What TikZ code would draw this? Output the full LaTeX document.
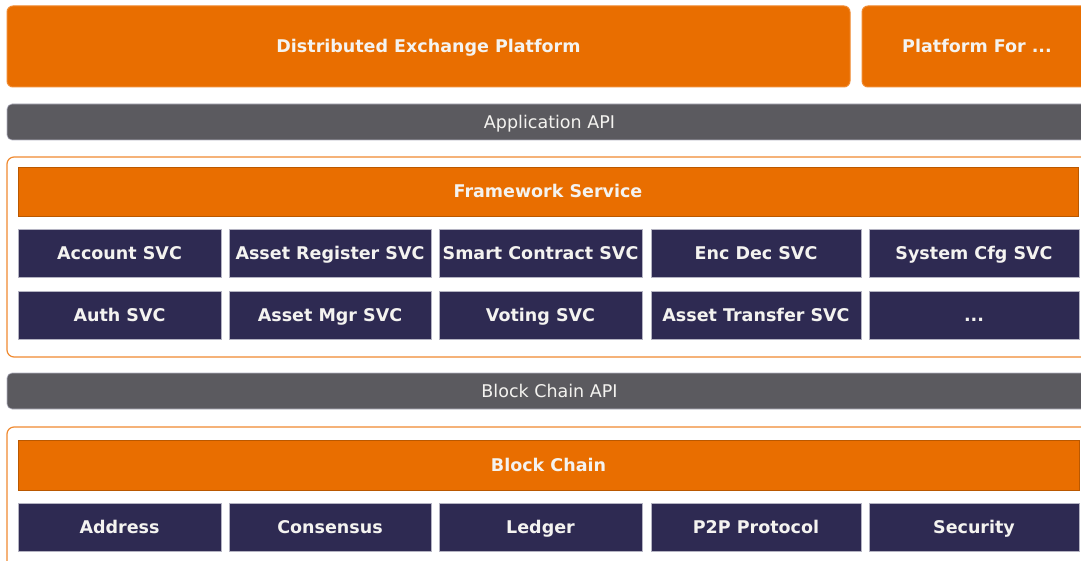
\documentclass[tikz,border=0pt]{standalone}
\usepackage{fontspec}
\setmainfont{DejaVu Sans}
\usetikzlibrary{calc}
\definecolor{MyOrange}{HTML}{E96E00}
\definecolor{MyNavy}{HTML}{2E2A52}
\definecolor{MyGray}{HTML}{5B5A5F}
\definecolor{FrameOrange}{HTML}{F08A30}
\definecolor{EdgeGray}{HTML}{B4B3C2}
\definecolor{LabelWhite}{HTML}{F4F3F0}
\tikzset{
	labeltext/.style={text=LabelWhite, inner sep=0pt, text height=14pt, text depth=1.2pt},
	topbox/.style={labeltext, fill=MyOrange, draw=FrameOrange, line width=1pt, rounded corners=6pt,
		font=\fontsize{17.5}{20}\selectfont\bfseries},
	apibar/.style={labeltext, fill=MyGray, draw=EdgeGray, line width=0.6pt, rounded corners=5pt,
		font=\fontsize{17.5}{20}\selectfont, minimum height=36pt},
	layerframe/.style={draw=FrameOrange, line width=1.2pt, rounded corners=7pt},
	headbar/.style={labeltext, fill=MyOrange, draw=MyOrange!80!black, line width=0.8pt,
		font=\fontsize{17.5}{20}\selectfont\bfseries, minimum height=49pt},
	svcbox/.style={labeltext, fill=MyNavy, draw=EdgeGray, line width=0.8pt,
		font=\fontsize{17.5}{20}\selectfont\bfseries, minimum height=48pt}
}

\begin{document}
\begin{tikzpicture}[x=1pt, y=-1pt]
	\clip (0,0) rectangle (1081,561);
	\fill[white] (0,0) rectangle (1081,561);
	
	% platforms
	\node[topbox, minimum width=843pt, minimum height=81pt] (dexp) at (428.5,46.5) {Distributed Exchange Platform};
	\node[topbox, minimum width=230pt, minimum height=81pt] (pfor) at (977,46.5) {Platform For ...};
	
	\node[apibar, minimum width=1085pt] (appapi) at (549.5,122) {Application API};
	
	% framework layer
	\draw[layerframe] (7,157) rectangle (1100,357);
	
	\node[headbar, minimum width=1060pt] (fwsvc) at (548,191.5) {Framework Service};
	
	\node[svcbox, minimum width=203pt] (account) at (119.5,253.5) {Account SVC};
	\node[svcbox, minimum width=202pt] (assetreg) at (330,253.5) {Asset Register SVC};
	\node[svcbox, minimum width=203pt] (smartc) at (540.5,253.5) {Smart Contract SVC};
	\node[svcbox, minimum width=210pt] (encdec) at (756,253.5) {Enc Dec SVC};
	\node[svcbox, minimum width=210pt] (syscfg) at (974,253.5) {System Cfg SVC};
	
	\node[svcbox, minimum width=203pt] (auth) at (119.5,315.5) {Auth SVC};
	\node[svcbox, minimum width=202pt] (assetmgr) at (330,315.5) {Asset Mgr SVC};
	\node[svcbox, minimum width=203pt] (voting) at (540.5,315.5) {Voting SVC};
	\node[svcbox, minimum width=210pt] (assettr) at (756,315.5) {Asset Transfer SVC};
	\node[svcbox, minimum width=210pt] (more) at (974,315.5) {...};
	
	\node[apibar, minimum width=1085pt] (bcapi) at (549.5,391) {Block Chain API};
	
	% block chain layer
	\draw[layerframe] (7,427) rectangle (1100,600);
	
	\node[headbar, minimum width=1061pt, minimum height=50pt] (bchain) at (548.5,465) {Block Chain};
	
	\node[svcbox, minimum width=203pt] (address) at (119.5,527.5) {Address};
	\node[svcbox, minimum width=202pt] (consensus) at (330,527.5) {Consensus};
	\node[svcbox, minimum width=203pt] (ledger) at (540.5,527.5) {Ledger};
	\node[svcbox, minimum width=210pt] (ptwop) at (756,527.5) {P2P Protocol};
	\node[svcbox, minimum width=210pt] (security) at (974,527.5) {Security};
\end{tikzpicture}
\end{document}
